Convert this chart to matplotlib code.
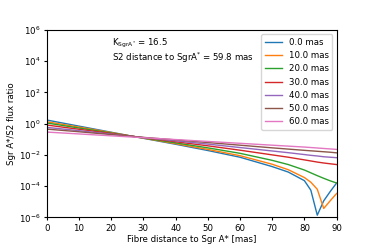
import numpy as np
import matplotlib
matplotlib.use('Agg')
import matplotlib.pyplot as plt
from matplotlib.ticker import LogLocator, NullLocator

# fibre distance to Sgr A* [mas]
dist = [0, 10, 20, 30, 40, 50, 60, 70, 75, 80, 82, 84, 86, 88, 90]

# log10 of the flux ratio
labels = ['0.0 mas', '10.0 mas', '20.0 mas', '30.0 mas', '40.0 mas', '50.0 mas', '60.0 mas']
log_ratio = {
    '0.0 mas':  [0.23, -0.16, -0.55, -0.94, -1.32, -1.72, -2.15, -2.75, -3.10, -3.65, -4.26, -5.86, -4.94, -4.35, -3.80],
    '10.0 mas': [0.12, -0.22, -0.57, -0.93, -1.28, -1.65, -2.05, -2.60, -2.95, -3.45, -3.75, -4.20, -5.43, -4.94, -4.47],
    '20.0 mas': [0.04, -0.28, -0.60, -0.92, -1.23, -1.55, -1.90, -2.35, -2.62, -2.97, -3.15, -3.33, -3.50, -3.66, -3.80],
    '30.0 mas': [-0.09, -0.36, -0.63, -0.90, -1.16, -1.42, -1.70, -2.00, -2.15, -2.32, -2.39, -2.46, -2.52, -2.57, -2.62],
    '40.0 mas': [-0.24, -0.45, -0.67, -0.89, -1.10, -1.31, -1.53, -1.75, -1.86, -1.98, -2.03, -2.07, -2.12, -2.15, -2.18],
    '50.0 mas': [-0.35, -0.52, -0.70, -0.88, -1.04, -1.21, -1.38, -1.55, -1.63, -1.71, -1.74, -1.77, -1.80, -1.83, -1.87],
    '60.0 mas': [-0.54, -0.66, -0.78, -0.90, -1.02, -1.14, -1.26, -1.38, -1.44, -1.50, -1.53, -1.56, -1.59, -1.62, -1.65],
}

plt.rcParams['font.size'] = 6.2
plt.rcParams['xtick.major.size'] = 2.5
plt.rcParams['ytick.major.size'] = 2.5
plt.rcParams['xtick.major.pad'] = 2
plt.rcParams['ytick.major.pad'] = 2

fig = plt.figure(figsize=(3.74, 2.49), dpi=100)
ax = fig.add_axes([0.125, 0.127, 0.775, 0.753])

for lab in labels:
    ax.plot(dist, 10**np.array(log_ratio[lab]), linewidth=1.0, label=lab)

ax.set_yscale('log')
ax.set_xlim(0, 90)
ax.set_ylim(1e-6, 1e6)
ax.yaxis.set_major_locator(LogLocator(base=10, subs=[1.0], numticks=7))
ax.yaxis.set_minor_locator(NullLocator())
ax.set_xticks(range(0, 91, 10))

ax.text(0.224, 0.93, r'K$_{\rm SgrA^{*}}$ = 16.5', transform=ax.transAxes, va='center')
ax.text(0.224, 0.853, r'S2 distance to SgrA$^{*}$ = 59.8 mas', transform=ax.transAxes, va='center')

ax.set_xlabel('Fibre distance to Sgr A* [mas]', labelpad=2)
ax.set_ylabel('Sgr A*/S2 flux ratio', labelpad=2)
ax.legend(loc='upper right', fontsize=6.2)

fig.savefig('out.png', dpi=100)
